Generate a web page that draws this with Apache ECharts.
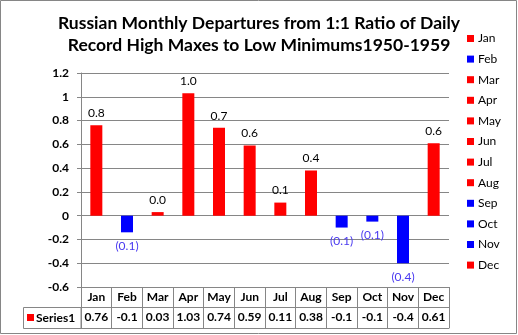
<!DOCTYPE html>
<html>
<head>
<meta charset="utf-8">
<script src="https://cdn.jsdelivr.net/npm/echarts@6/dist/echarts.min.js"></script>
<style>
html,body{margin:0;padding:0;background:#fff;}
#c{width:518px;height:335px;}
</style>
</head>
<body>
<div id="c"></div>
<script>
const months = ['Jan','Feb','Mar','Apr','May','Jun','Jul','Aug','Sep','Oct','Nov','Dec'];
const values = [0.76, -0.14, 0.03, 1.03, 0.74, 0.59, 0.11, 0.38, -0.10, -0.05, -0.40, 0.61];
const tableLabels = ['0.76','-0.1','0.03','1.03','0.74','0.59','0.11','0.38','-0.1','-0.1','-0.4','0.61'];
const yTicks = {min: -0.6, max: 1.2, interval: 0.2};
const seriesName = 'Series1';

const FONT = 'Lato';
const GRAY = '#868686';
const RED = '#ff0000';
const BLUE = '#0000ff';

const chart = echarts.init(document.getElementById('c'), null, {renderer: 'canvas'});

function fmt(v) {
  return v < 0 ? '(' + Math.abs(v).toFixed(1) + ')' : v.toFixed(1);
}

const series = months.map((m, i) => ({
  name: m,
  type: 'bar',
  stack: 'all',
  barWidth: 12,
  xAxisIndex: 0,
  itemStyle: {color: values[i] < 0 ? BLUE : RED},
  data: months.map((_, j) => j === i ? {
    value: values[j],
    label: {
      show: true,
      position: values[j] < 0 ? 'bottom' : 'top',
      distance: values[j] < 0 ? 8 : 6,
      color: values[j] < 0 ? '#4a3af0' : '#000',
      fontFamily: FONT,
      fontSize: 12,
      formatter: () => fmt(values[j])
    }
  } : null)
}));

chart.setOption({
  animation: false,
  backgroundColor: '#fff',
  title: {
    text: 'Russian Monthly Departures from 1:1 Ratio of Daily\nRecord High Maxes to Low Minimums1950-1959',
    left: 'center',
    top: 12,
    padding: 0,
    textStyle: {fontFamily: FONT, fontWeight: 'bold', fontSize: 17.5, lineHeight: 22, color: '#000'}
  },
  legend: {
    orient: 'vertical',
    left: 467,
    top: 32,
    padding: 0,
    itemWidth: 7,
    itemHeight: 7,
    itemGap: 7.6,
    icon: 'rect',
    data: months,
    textStyle: {fontFamily: FONT, fontSize: 12, color: '#000', lineHeight: 13, padding: [0, 0, 0, -1]}
  },
  grid: {left: 81, right: 69, top: 73, bottom: 48, containLabel: false},
  xAxis: [
    {
      type: 'category', data: months, position: 'bottom',
      axisLine: {show: true, onZero: false, lineStyle: {color: GRAY}},
      axisTick: {show: true, length: 41, interval: 0, lineStyle: {color: GRAY}},
      axisLabel: {interval: 0, hideOverlap: false, fontFamily: FONT, fontWeight: 'bold', fontSize: 12, color: '#000', margin: 4}
    },
    {
      type: 'category', data: months, position: 'bottom', offset: 20,
      axisLine: {show: true, onZero: false, lineStyle: {color: GRAY}},
      axisTick: {show: false},
      axisLabel: {interval: 0, hideOverlap: false, fontFamily: FONT, fontWeight: 'bold', fontSize: 12, color: '#000', margin: 4,
        formatter: (v, i) => tableLabels[i]}
    },
    {
      type: 'category', data: months, position: 'bottom', offset: 41,
      axisLine: {show: true, onZero: false, lineStyle: {color: GRAY}},
      axisTick: {show: false},
      axisLabel: {show: false}
    }
  ],
  yAxis: {
    type: 'value', min: yTicks.min, max: yTicks.max, interval: yTicks.interval,
    axisLine: {show: true, lineStyle: {color: GRAY}},
    axisTick: {show: true, length: 4, lineStyle: {color: GRAY}},
    splitLine: {show: true, lineStyle: {color: GRAY, width: 1}},
    axisLabel: {fontFamily: FONT, fontWeight: 'bold', fontSize: 12, color: '#000', margin: 12}
  },
  graphic: [
    {type: 'rect', shape: {x: 0.5, y: 0.5, width: 516, height: 333}, style: {fill: 'none', stroke: GRAY, lineWidth: 1}, silent: true},
    {type: 'rect', shape: {x: 23.5, y: 307.5, width: 57.5, height: 21}, style: {fill: 'none', stroke: GRAY, lineWidth: 1}, silent: true},
    {type: 'rect', shape: {x: 27, y: 314, width: 7, height: 7}, style: {fill: RED}, silent: true},
    {type: 'text', x: 36, y: 318, style: {text: seriesName, fontFamily: FONT, fontWeight: 'bold', fontSize: 12, fill: '#000', verticalAlign: 'middle'}, silent: true}
  ],
  series: series
});
</script>
</body>
</html>
